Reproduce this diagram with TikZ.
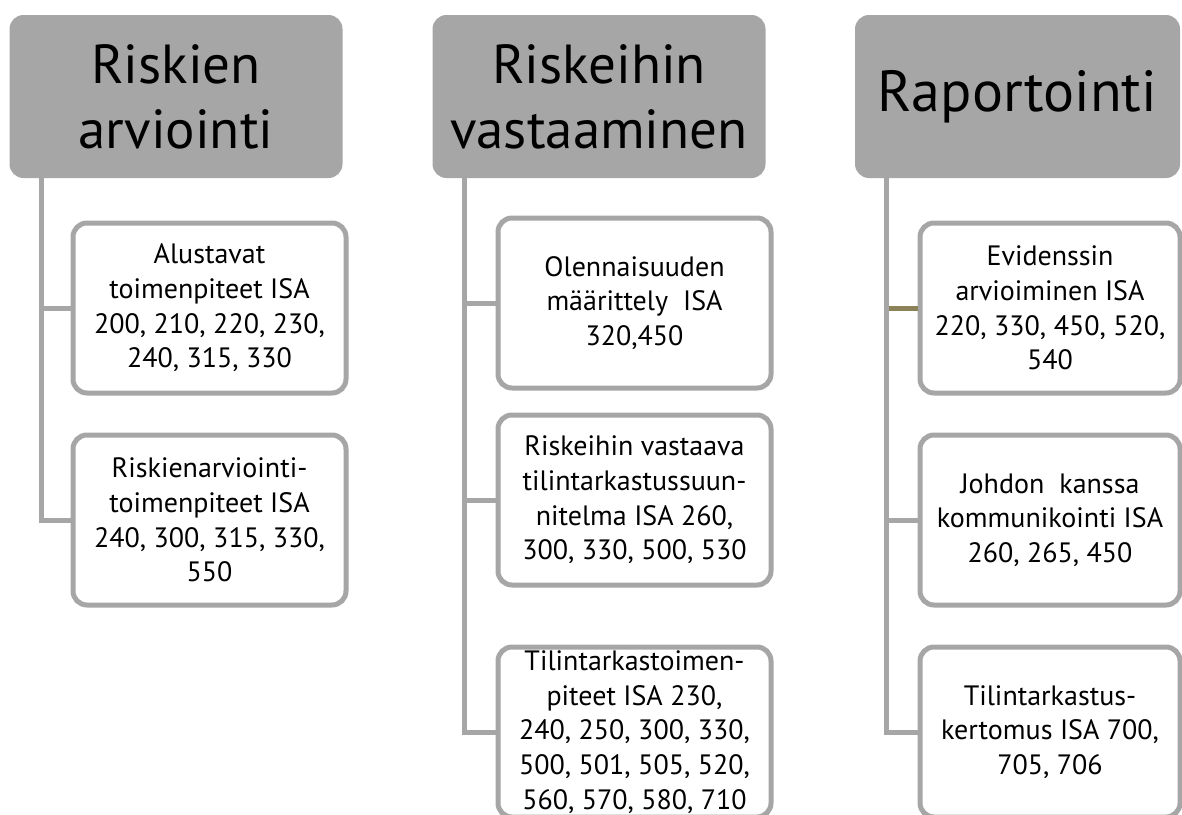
\documentclass[tikz,border=0pt]{standalone}
\usepackage{fontspec}
\setmainfont{PT Sans}
\definecolor{boxGray}{HTML}{A6A6A6}
\definecolor{branchOlive}{HTML}{8C8257}

\begin{document}
\begin{tikzpicture}[
  x=0.5pt, y=-0.5pt,
  every node/.style={align=center},
  phase/.style={fill=boxGray, rounded corners=7pt, inner sep=0pt,
    minimum width=166.5pt, minimum height=81.5pt,
    font=\fontsize{27.5}{32.5}\selectfont},
  task/.style={draw=boxGray, line width=2.5pt, fill=white, rounded corners=7pt,
    inner sep=0pt, minimum width=136.5pt, minimum height=85pt,
    font=\fontsize{14}{17.3}\selectfont},
  link/.style={draw=boxGray, line width=2.5pt},
  mark link/.style={draw=branchOlive, line width=2.5pt}]

\useasboundingbox (0,0) rectangle (1182,814);

% The three phases on top
\node[phase] (riskAssessment) at (176,96.5) {Riskien\\arviointi};
\node[phase] (riskResponse) at (599,96.5) {Riskeihin\\vastaaminen};
\node[phase, minimum width=162.5pt, font=\fontsize{29}{34}\selectfont]
  (reporting) at (1017.5,96.5) {Raportointi};

% Tasks under each phase
\node[task] (preliminaryActions) at (209.5,308)
  {Alustavat\\toimenpiteet ISA\\200, 210, 220, 230,\\240, 315, 330};
\node[task] (assessmentActions) at (209.5,520)
  {Riskienarviointi-\\toimenpiteet ISA\\240, 300, 315, 330,\\550};

\node[task] (materiality) at (634.5,303)
  {Olennaisuuden\\määrittely\ \ ISA\\320,450};
\node[task] (auditPlan) at (634.5,500)
  {Riskeihin vastaava\\tilintarkastussuun-\\nitelma ISA 260,\\300, 330, 500, 530};
\node[task] (auditActions) at (634.5,732)
  {Tilintarkastoimen-\\piteet ISA 230,\\240, 250, 300, 330,\\500, 501, 505, 520,\\560, 570, 580, 710};

\node[task, minimum width=130pt] (evidence) at (1050,308)
  {Evidenssin\\arvioiminen ISA\\220, 330, 450, 520,\\540};
\node[task, minimum width=130pt] (governance) at (1050,520)
  {Johdon\ \ kanssa\\kommunikointi ISA\\260, 265, 450};
\node[task, minimum width=130pt] (auditReport) at (1050,732)
  {Tilintarkastus-\\kertomus ISA 700,\\705, 706};

% Connect the phases to their tasks
\draw[link] ([xshift=16pt]riskAssessment.south west) |- (preliminaryActions.west);
\draw[link] ([xshift=16pt]riskAssessment.south west) |- (assessmentActions.west);

\draw[link] ([xshift=16pt]riskResponse.south west) |- (materiality.west);
\draw[link] ([xshift=16pt]riskResponse.south west) |- (auditPlan.west);
\draw[link] ([xshift=16pt]riskResponse.south west) |- (auditActions.west);

\draw[link] ([xshift=16pt]reporting.south west) |- (evidence.west);
\draw[link] ([xshift=16pt]reporting.south west) |- (governance.west);
\draw[link] ([xshift=16pt]reporting.south west) |- (auditReport.west);
\draw[mark link] ([xshift=17pt]reporting.south west |- evidence.west) -- (evidence.west);
\end{tikzpicture}
\end{document}
